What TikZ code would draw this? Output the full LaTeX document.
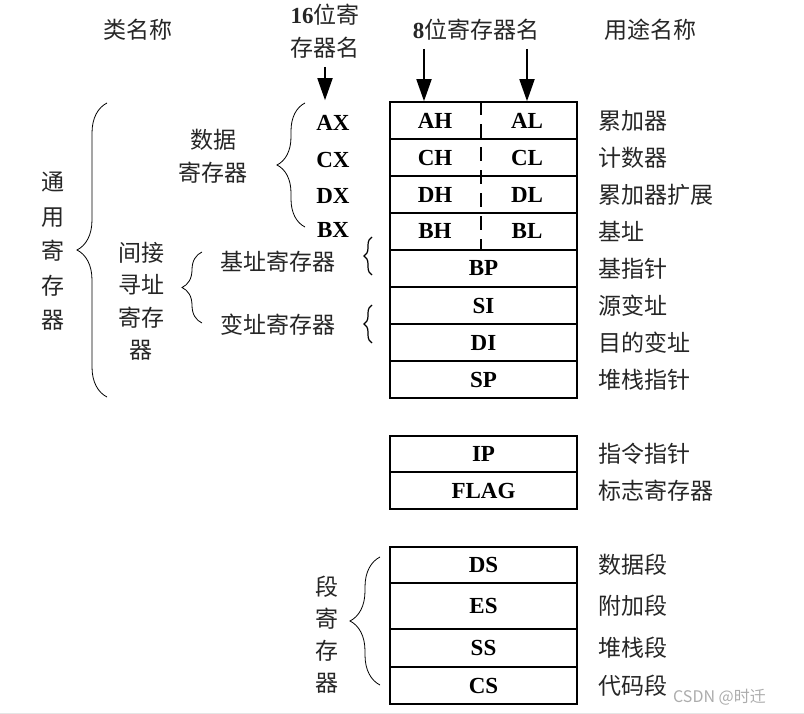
\documentclass[tikz,border=0pt]{standalone}
\usepackage{fontspec}
\setmainfont{Liberation Serif}
\newfontfamily\cjk{Noto Sans CJK SC}
\usetikzlibrary{arrows.meta,decorations.pathreplacing}

\begin{document}
\begin{tikzpicture}[x=1pt,y=-1pt,
    reg/.style={draw,line width=1.6pt,minimum width=187pt,minimum height=#1,inner sep=0pt,
                font=\fontsize{23}{26}\selectfont\bfseries},
    reg/.default=37pt,
    regname/.style={inner sep=0pt,font=\fontsize{23}{26}\selectfont\bfseries},
    uselab/.style={anchor=west,inner sep=0pt,text=black!85,font=\cjk\fontsize{23}{26}\selectfont},
    cls/.style={inner sep=0pt,align=center,text=black!85,font=\cjk\fontsize{23}{33}\selectfont},
    bigarrow/.style={line width=1.8pt,-{Triangle[length=22pt,width=15pt]}},
    curly/.style={decorate,decoration={brace,amplitude=#1},line width=0.8pt}
]
\useasboundingbox (0,0) rectangle (804,714);

% headers
\node[cls] (cat) at (138,30) {类名称};
\node[cls] (h16) at (325,31.5) {{\rmfamily\bfseries 16}位寄\\存器名};
\node[cls] (h8) at (476,30) {{\rmfamily\bfseries 8}位寄存器名};
\node[cls] (huse) at (650,30) {用途名称};

% general registers, split in high and low halves
\coordinate (mid) at (481,0);
\foreach \r/\y/\hi/\lo/\ulab in {1/120.5/AH/AL/累加器, 2/157.5/CH/CL/计数器,
                                3/194.5/DH/DL/累加器扩展, 4/231.5/BH/BL/基址}{
    \node[reg] (r\r) at (483.5,\y) {};
    \node[regname] (\hi) at (435,\y) {\hi};
    \node[regname] (\lo) at (527,\y) {\lo};
    \node[uselab] (u\r) at (598,\y) {\ulab};
}
\draw[line width=1.5pt,dash pattern=on 14pt off 9pt] (r1.north -| mid) -- (r4.south -| mid);

\foreach \n/\y/\ulab in {BP/268.5/基指针, SI/305.5/源变址, DI/342.5/目的变址, SP/379.5/堆栈指针}{
    \node[reg] (\n) at (483.5,\y) {\n};
    \node[uselab] (u\n) at (598,\y) {\ulab};
}

% IP and flags
\node[reg=36.5pt] (IP) at (483.5,454) {IP};
\node[reg=36.5pt] (FLAG) at (483.5,490.5) {FLAG};
\node[uselab] (uIP) at (598,454) {指令指针};
\node[uselab] (uFLAG) at (598,490.5) {标志寄存器};

% segment registers
\foreach \n/\y/\h/\ulab in {DS/565/36pt/数据段, ES/606/46pt/附加段, SS/648/38pt/堆栈段, CS/685.5/37pt/代码段}{
    \node[reg=\h] (\n) at (483.5,\y) {\n};
    \node[uselab] (u\n) at (598,\y) {\ulab};
}

% 16 bit names
\foreach \n/\y in {AX/123, CX/160, DX/196, BX/230}{
    \node[regname] (\n) at (333,\y) {\n};
}

% arrows
\draw[bigarrow] ([yshift=-8pt]h16.south) -- ([yshift=15pt]AX.north -| h16);
\draw[bigarrow] ([yshift=-8pt,xshift=-11pt]h8.south -| AH) -- ([xshift=-11pt]r1.north -| AH);
\draw[bigarrow] ([yshift=-8pt]h8.south -| AL) -- (r1.north -| AL);

% class names and braces
\node[cls,font=\cjk\fontsize{23}{34.5}\selectfont] (gen) at (53,251.5) {通\\用\\寄\\存\\器};
\draw[curly=30pt] (107,397) -- (107,103);
\node[cls] (data) at (213,156.5) {数据\\寄存器};
\draw[curly=28pt] (305,227) -- (305,103);
\node[cls,font=\cjk\fontsize{23}{32.5}\selectfont] (ind) at (141,301.5) {间接\\寻址\\寄存\\器};
\draw[curly=20pt] (202,323) -- (202,252);
\node[cls] (base) at (278,262) {基址寄存器};
\node[cls] (vidx) at (278,325) {变址寄存器};
\draw[curly=8pt,line width=1.2pt] (372,275) -- (372,237);
\draw[curly=8pt,line width=1.2pt] (372,343) -- (372,305);
\node[cls,font=\cjk\fontsize{23}{32}\selectfont] (seg) at (327,635) {段\\寄\\存\\器};
\draw[curly=30pt] (380,685) -- (380,557);

\node[anchor=west,inner sep=0pt,text=gray!65,font=\cjk\fontsize{16}{18}\selectfont] (mark) at (673,697) {CSDN @时迁};
\draw[gray!20,line width=1pt] (0,713) -- (804,713);
\end{tikzpicture}
\end{document}
